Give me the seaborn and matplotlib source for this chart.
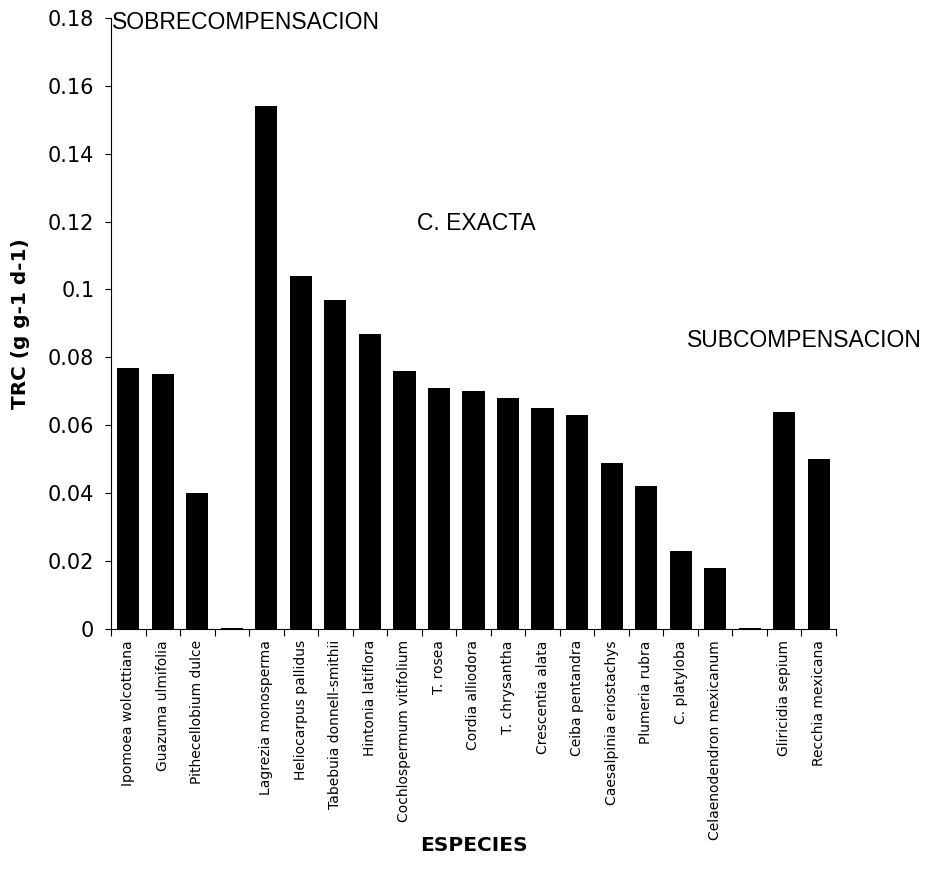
import matplotlib
matplotlib.use("Agg")
import matplotlib.pyplot as plt
import seaborn as sns
import pandas as pd
import numpy as np
from matplotlib.ticker import FixedLocator

species = ["Ipomoea wolcottiana", "Guazuma ulmifolia", "Pithecellobium dulce", "",
           "Lagrezia monosperma", "Heliocarpus pallidus", "Tabebuia donnell-smithii",
           "Hintonia latiflora", "Cochlospermum vitifolium", "T. rosea", "Cordia alliodora",
           "T. chrysantha", "Crescentia alata", "Ceiba pentandra", "Caesalpinia eriostachys",
           "Plumeria rubra", "C. platyloba", "Celaenodendron mexicanum", " ",
           "Gliricidia sepium", "Recchia mexicana"]
trc = [0.077, 0.075, 0.040, 0.0004,
       0.154, 0.104, 0.097, 0.087, 0.076, 0.071, 0.070, 0.068, 0.065, 0.063,
       0.049, 0.042, 0.023, 0.018, 0.0004,
       0.064, 0.050]
yticks = [0, 0.02, 0.04, 0.06, 0.08, 0.1, 0.12, 0.14, 0.16, 0.18]
ytick_labels = ["0", "0.02", "0.04", "0.06", "0.08", "0.1", "0.12", "0.14", "0.16", "0.18"]
zones = ["SOBRECOMPENSACION", "C. EXACTA", "SUBCOMPENSACION"]

sns.set_style("white")
plt.rcParams['font.family'] = ['DejaVu Sans']
plt.rcParams['text.color'] = 'black'
plt.rcParams['axes.labelcolor'] = 'black'
plt.rcParams['xtick.color'] = 'black'
plt.rcParams['ytick.color'] = 'black'

df = pd.DataFrame({"especie": species, "trc": trc})

fig = plt.figure(figsize=(9.33, 8.86), dpi=100)
ax = fig.add_axes([0.119, 0.290, 0.777, 0.690])

sns.barplot(data=df, x="especie", y="trc", order=species, color="black",
            width=0.64, saturation=1, ax=ax, edgecolor="black", linewidth=0)

n = len(species)
ax.set_xlim(-0.5, n - 0.5)
ax.set_ylim(0, 0.18)
ax.set_yticks(yticks)
ax.set_yticklabels(ytick_labels, fontsize=15)
ax.set_xticks(range(n))
ax.set_xticklabels(species, rotation=90, fontsize=10, va="top", ha="center")
ax.xaxis.set_minor_locator(FixedLocator(np.arange(-0.5, n, 1.0)))
ax.tick_params(axis="x", which="major", bottom=True, length=0, pad=8)
ax.tick_params(axis="x", which="minor", bottom=True, length=5, direction="out", width=0.8)
ax.tick_params(axis="y", which="major", left=True, length=4, direction="out", width=0.8, pad=8)

for s in ["top", "right"]:
    ax.spines[s].set_visible(False)
for s in ["left", "bottom"]:
    ax.spines[s].set_color("black")
    ax.spines[s].set_linewidth(0.8)

ax.set_ylabel("TRC (g g-1 d-1)", fontsize=14.4, fontweight="bold", va="center")
ax.yaxis.set_label_coords(-0.1255, 0.5)
ax.set_xlabel("ESPECIES", fontsize=14.5, fontweight="bold", va="center")
ax.xaxis.set_label_coords(0.5, -0.3535)

afont = ['Liberation Sans', 'DejaVu Sans']
ax.text(-0.47, 0.1785, zones[0], fontsize=16.5, va="center", ha="left", family=afont)
ax.text(8.37, 0.1195, zones[1], fontsize=16.5, va="center", ha="left", family=afont)
ax.text(16.17, 0.0851, zones[2], fontsize=16.5, va="center", ha="left", family=afont,
        clip_on=False)

fig.savefig("out.png", dpi=100)
